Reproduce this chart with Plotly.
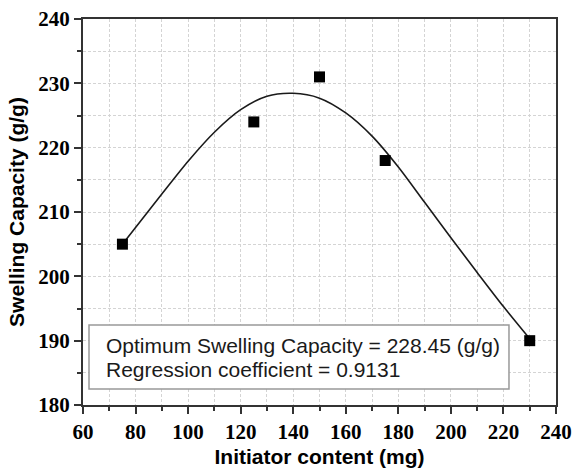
import plotly.graph_objects as go

# Measured data points
initiator_mg = [75, 125, 150, 175, 230]
swelling_gg = [205, 224, 231, 218, 190]

# Fitted curve
fit_x = [75, 80, 90, 100, 110, 120, 130, 140, 150, 160, 170, 180, 190, 200, 210, 220, 230]
fit_y = [205.0, 207.6, 212.8, 217.9, 222.4, 225.9, 228.0, 228.45, 227.7, 225.4, 221.8,
         217.0, 211.5, 206.0, 200.6, 195.3, 190.3]

box_lines = ["Optimum Swelling Capacity = 228.45 (g/g)", "Regression coefficient = 0.9131"]

fig = go.Figure()
fig.add_trace(go.Scatter(x=fit_x, y=fit_y, mode="lines",
                         line=dict(color="#1a1a1a", width=1.6, shape="spline", smoothing=0.8),
                         showlegend=False, hoverinfo="skip"))
fig.add_trace(go.Scatter(x=initiator_mg, y=swelling_gg, mode="markers",
                         marker=dict(symbol="square", size=11, color="black"), showlegend=False))

grid = dict(showgrid=True, gridcolor="#d4d4d4", griddash="3px,2px", gridwidth=1)
axis_common = dict(showline=True, linecolor="#333333", linewidth=2, mirror=True, automargin=False,
                   ticks="outside", ticklen=7, tickwidth=1.5, tickcolor="#333333",
                   tickfont=dict(family="Liberation Serif", size=21, color="black", weight=700),
                   zeroline=False, **grid)

fig.update_xaxes(range=[60, 240], dtick=20, tick0=60,
                 minor=dict(dtick=10, ticklen=4, tickwidth=1.5, tickcolor="#333333", ticks="outside", **grid),
                 title=dict(text="<b>Initiator content (mg)</b>", font=dict(family="Liberation Sans", size=21, color="black"), standoff=6),
                 **axis_common)
fig.update_yaxes(range=[180, 240], dtick=10, tick0=180,
                 minor=dict(dtick=5, ticklen=4, tickwidth=1.5, tickcolor="#333333", ticks="outside", **grid),
                 title=dict(text="<b>Swelling Capacity (g/g)</b>", font=dict(family="Liberation Sans", size=21, color="black"), standoff=8),
                 **axis_common)

fig.add_shape(type="rect", xref="paper", yref="paper", x0=0.0127, x1=0.9006, y0=0.0415, y1=0.207,
              line=dict(color="#999999", width=1.5), fillcolor="white", layer="above")
fig.add_annotation(xref="paper", yref="paper", x=0.0444, y=0.153, xanchor="left", yanchor="middle",
                   text=box_lines[0], showarrow=False, font=dict(family="Liberation Sans", size=21, color="#1a1a1a"))
fig.add_annotation(xref="paper", yref="paper", x=0.0444, y=0.0907, xanchor="left", yanchor="middle",
                   text=box_lines[1], showarrow=False, font=dict(family="Liberation Sans", size=21, color="#1a1a1a"))

fig.update_layout(width=573, height=470, margin=dict(l=83, r=17, t=19, b=65),
                  plot_bgcolor="white", paper_bgcolor="white")
fig.write_html("out.html", config={"displayModeBar": False},
               post_script="document.body.style.margin='0';document.body.style.overflow='hidden';")
